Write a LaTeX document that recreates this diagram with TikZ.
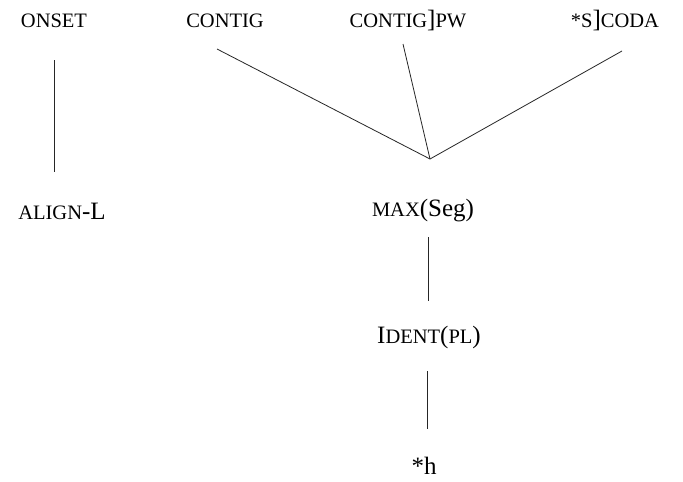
\documentclass[tikz,border=0pt]{standalone}
\usepackage{fontspec}
\setmainfont{Liberation Serif}
\newcommand{\smc}[1]{{\fontsize{20.5pt}{24pt}\selectfont #1}}
\begin{document}
\begin{tikzpicture}[x=1pt,y=-1pt,
  lab/.style={inner sep=0pt,anchor=base,font=\fontsize{25pt}{30pt}\selectfont},
  conn/.style={line width=0.8pt,draw=black!85}]
\useasboundingbox[fill=white] (0,0) rectangle (683,482);
\node[lab] (onset) at (54,27) {\smc{ONSET}};
\node[lab] (contig) at (225,27) {\smc{CONTIG}};
\node[lab] (contigpw) at (408,27) {\smc{CONTIG}]\smc{PW}};
\node[lab] (scoda) at (615,27) {\smc{*S}]\smc{CODA}};
\node[lab] (align) at (62,219) {\smc{ALIGN}-L};
\node[lab] (max) at (423,216) {\smc{MAX}(Seg)};
\node[lab] (ident) at (429,343) {I\smc{DENT}(\smc{PL})};
\node[lab] (h) at (424,474) {*h};
\coordinate (j) at ([xshift=7pt,yshift=57pt]max.base);
\draw[conn] ([xshift=0.5pt,yshift=-33pt]onset.base) -- ([xshift=-7.5pt,yshift=47pt]align.base);
\draw[conn] ([xshift=-8pt,yshift=-22pt]contig.base) -- (j);
\draw[conn] ([xshift=-5pt,yshift=-17pt]contigpw.base) -- (j);
\draw[conn] ([xshift=7pt,yshift=-24pt]scoda.base) -- (j);
\draw[conn] ([xshift=5pt,yshift=-21pt]max.base) -- ([xshift=-1pt,yshift=42pt]ident.base);
\draw[conn] ([xshift=-2pt,yshift=-28pt]ident.base) -- ([xshift=3pt,yshift=45pt]h.base);
\end{tikzpicture}
\end{document}
